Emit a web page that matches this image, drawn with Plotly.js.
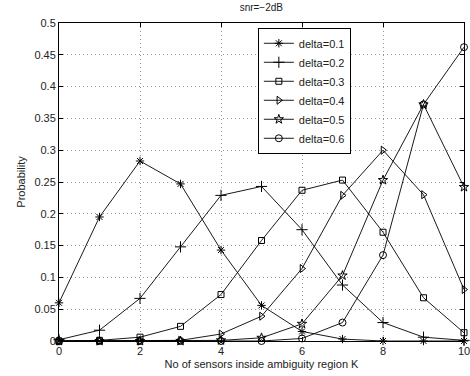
<!DOCTYPE html>
<html>
<head>
<meta charset="utf-8">
<script src="https://cdn.plot.ly/plotly-3.0.1.min.js"></script>
<style>html,body{margin:0;padding:0;background:#fff;}#chart{width:470px;height:376px;}</style>
</head>
<body>
<div id="chart"></div>
<script>
const K = [0, 1, 2, 3, 4, 5, 6, 7, 8, 9, 10];
const seriesNames = ["delta=0.1", "delta=0.2", "delta=0.3", "delta=0.4", "delta=0.5", "delta=0.6"];
const d01 = [0.060, 0.195, 0.283, 0.247, 0.143, 0.056, 0.015, 0.003, 0.000, 0.000, 0.000];
const d02 = [0.002, 0.017, 0.067, 0.148, 0.229, 0.243, 0.175, 0.088, 0.029, 0.006, 0.001];
const d03 = [0.000, 0.001, 0.006, 0.023, 0.073, 0.158, 0.237, 0.253, 0.171, 0.068, 0.013];
const d04 = [0.000, 0.000, 0.000, 0.001, 0.011, 0.039, 0.114, 0.229, 0.300, 0.230, 0.081];
const d05 = [0.000, 0.000, 0.000, 0.000, 0.001, 0.005, 0.027, 0.103, 0.253, 0.372, 0.242];
const d06 = [0.000, 0.000, 0.000, 0.000, 0.000, 0.000, 0.004, 0.029, 0.135, 0.372, 0.462];
const yTicks = [0, 0.05, 0.1, 0.15, 0.2, 0.25, 0.3, 0.35, 0.4, 0.45, 0.5];
const xTicks = [0, 2, 4, 6, 8, 10];

const allY = [d01, d02, d03, d04, d05, d06];
const symbols = ["asterisk-open", "cross-thin-open", "square-open", "triangle-right-open", "star-open", "circle-open"];
const sizes = [7, 8, 6, 7, 7, 7];

const traces = allY.map((y, i) => ({
  x: K, y: y, name: seriesNames[i], type: "scatter", mode: "lines+markers",
  cliponaxis: false,
  line: {color: "#000", width: 0.9},
  marker: {symbol: symbols[i], size: sizes[i], color: "#000", line: {color: "#000", width: 1}}
}));

const font = {family: "Liberation Sans, Arial, sans-serif", color: "#222", size: 11};
const layout = {
  width: 470, height: 376,
  margin: {l: 59, r: 6, t: 23, b: 35, pad: 0},
  paper_bgcolor: "#fff", plot_bgcolor: "#fff",
  font: font,
  title: {text: "snr=\u22122dB", font: {family: font.family, size: 10, color: "#222"}, x: 0.556, xanchor: "center", y: 0.99, yanchor: "top"},
  showlegend: true,
  legend: {
    x: 0.491, y: 0.985, xanchor: "left", yanchor: "top",
    bordercolor: "#000", borderwidth: 1, bgcolor: "#fff",
    font: {family: font.family, size: 11, color: "#222"},
    tracegroupgap: 0, itemwidth: 30
  },
  xaxis: {
    range: [0, 10], tickvals: xTicks, ticktext: xTicks.map(String),
    ticks: "inside", ticklen: 4, tickcolor: "#000",
    showline: true, linecolor: "#000", linewidth: 1, mirror: "ticks",
    showgrid: true, gridcolor: "#999", griddash: "1px,3px", gridwidth: 1,
    zeroline: false, ticklabeloverflow: "allow",
    title: {text: "No of sensors inside ambiguity region K", font: {family: font.family, size: 11, color: "#222"}, standoff: 4},
    tickfont: {family: font.family, size: 11, color: "#222"}
  },
  yaxis: {
    range: [0, 0.5], tickvals: yTicks, ticktext: yTicks.map(String),
    ticks: "inside", ticklen: 4, tickcolor: "#000",
    showline: true, linecolor: "#000", linewidth: 1, mirror: "ticks",
    showgrid: true, gridcolor: "#999", griddash: "1px,3px", gridwidth: 1,
    zeroline: false,
    title: {text: "Probability", font: {family: font.family, size: 11, color: "#222"}, standoff: 6},
    tickfont: {family: font.family, size: 11, color: "#222"}
  }
};
Plotly.newPlot("chart", traces, layout, {displayModeBar: false, staticPlot: true});
</script>
</body>
</html>
